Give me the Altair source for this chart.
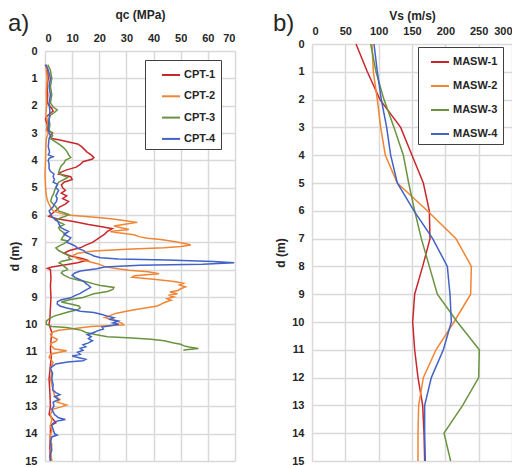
import altair as alt
import pandas as pd

FONT = "Liberation Sans"
cpt_names = ["CPT-1", "CPT-2", "CPT-3", "CPT-4"]
masw_names = ["MASW-1", "MASW-2", "MASW-3", "MASW-4"]
line_colors = ["#C8282C", "#F08535", "#6A9340", "#4262C6"]

# ---- CPT traces (depth m, qc MPa) ----
cpt1_d = [0.5, 0.7, 1.0, 1.3, 1.6, 1.9, 2.1, 2.2, 2.4, 2.5, 2.7, 2.9, 3.0, 3.1, 3.2, 3.25, 3.3, 3.4, 3.5, 3.6,
          3.7, 3.8, 3.9, 3.95, 4.05, 4.15, 4.25, 4.35, 4.45, 4.5, 4.6, 4.7, 4.8, 4.9, 5.0, 5.1, 5.2, 5.3, 5.4,
          5.5, 5.6, 5.7, 5.8, 5.9, 6.0, 6.05, 6.15, 6.25, 6.35, 6.45, 6.5, 6.6, 6.7, 6.8, 6.9, 7.0, 7.1, 7.2,
          7.3, 7.4, 7.5, 7.6, 7.65, 7.75, 7.85, 7.9, 7.95, 8.0, 8.3, 8.6, 9.0, 9.4, 9.8, 10.0, 10.3, 10.6,
          10.9, 11.2, 11.5, 12.0, 12.5, 13.0, 13.3, 13.6, 13.7, 14.0, 14.5, 15.0]
cpt1_qc = [0.3, 1.0, 1.2, 0.8, 1.0, 0.8, 2.5, 3.0, 0.5, 0.2, 0.8, 1.0, 2.8, 2.0, 2.5, 5.0, 7.5, 12.0, 13.5, 14.5,
           15.5, 17.0, 18.0, 17.5, 14.0, 13.0, 11.5, 8.0, 5.5, 5.0, 9.5, 10.0, 7.0, 6.0, 6.5, 7.5, 6.0, 8.0, 6.5,
           8.7, 7.5, 5.5, 4.5, 3.2, 2.0, 1.4, 5.0, 11.0, 16.0, 22.0, 24.8, 23.0, 22.0, 20.5, 19.0, 17.5, 15.0, 13.0,
           9.0, 7.0, 9.5, 14.0, 15.6, 12.0, 6.0, 2.5, 0.9, 2.0, 2.2, 2.0, 2.2, 2.0, 1.8, 1.5, 2.5, 2.2,
           2.0, 2.3, 2.0, 1.5, 1.8, 2.0, 1.5, 4.0, 2.0, 2.0, 1.8, 2.0]

cpt2_d = [0.5, 1.0, 1.5, 2.0, 2.3, 2.6, 2.9, 3.0, 3.2, 3.5, 4.0, 4.5, 5.0, 5.3, 5.5, 5.7, 5.85, 5.95, 6.0, 6.05,
          6.1, 6.15, 6.2, 6.27, 6.33, 6.4, 6.47, 6.53, 6.6, 6.65, 6.72, 6.8, 6.85, 6.9, 6.97, 7.05, 7.1, 7.15,
          7.2, 7.25, 7.32, 7.4, 7.47, 7.55, 7.62, 7.7, 7.78, 7.88, 7.95, 8.02, 8.08, 8.15, 8.22, 8.28, 8.35,
          8.43, 8.5, 8.56, 8.63, 8.7, 8.76, 8.82, 8.88, 8.94, 9.0, 9.06, 9.12, 9.2, 9.27, 9.33, 9.4, 9.45,
          9.52, 9.6, 9.68, 9.75, 9.83, 9.9, 9.97, 10.02, 10.08, 10.15, 10.22, 10.28, 10.36, 10.45, 10.55,
          10.62, 10.7, 10.8, 10.9, 10.97, 11.05, 11.1, 11.2, 11.4, 11.6, 11.8, 12.0, 12.2, 12.4, 12.6, 12.75,
          12.85, 12.95, 13.02, 13.1, 13.3, 13.5, 13.7, 13.9, 14.1, 14.4, 14.7, 15.0]
cpt2_qc = [0.3, 0.8, 0.5, 0.6, 0.3, 1.0, 0.5, 1.2, 0.5, 0.3, 0.2, 0.0, 0.2, 0.5, 1.0, 2.0, 3.0, 6.0, 8.0, 14.0,
           20.5, 25.0, 29.0, 34.0, 30.0, 25.4, 28.0, 30.9, 24.0, 27.0, 32.8, 35.0, 37.7, 42.6, 47.5, 52.0, 53.7, 50.0,
           43.9, 30.0, 18.0, 12.0, 10.6, 11.0, 12.5, 16.0, 19.3, 21.8, 25.4, 31.0, 38.0, 42.0, 33.0, 32.0, 40.0,
           47.6, 51.0, 49.5, 51.8, 50.0, 49.0, 46.0, 48.8, 45.5, 47.5, 45.0, 46.5, 44.0, 42.6, 41.4, 37.0, 34.0,
           30.0, 26.0, 24.0, 22.0, 25.0, 27.0, 28.5, 29.0, 17.0, 11.0, 5.0, 3.0, 2.0, 2.5, 4.5,
           4.0, 2.0, 2.5, 3.5, 8.0, 4.0, 2.0, 1.5, 3.0, 2.0, 2.5, 2.0, 2.5, 3.0, 3.5, 5.5,
           4.5, 8.0, 6.0, 3.0, 2.0, 2.5, 2.0, 2.5, 1.8, 2.5, 2.2, 2.5]

cpt3_d = [0.5, 0.7, 1.0, 1.3, 1.6, 1.9, 2.05, 2.15, 2.25, 2.35, 2.5, 2.7, 2.9, 3.0, 3.1, 3.2, 3.3, 3.4, 3.5, 3.6,
          3.72, 3.8, 3.9, 4.0, 4.1, 4.2, 4.3, 4.45, 4.55, 4.63, 4.7, 4.8, 4.9, 5.0, 5.1, 5.2, 5.35, 5.5, 5.6,
          5.7, 5.85, 5.92, 5.98, 6.05, 6.1, 6.2, 6.3, 6.35, 6.45, 6.55, 6.62, 6.7, 6.8, 6.9, 6.95, 7.05, 7.1,
          7.2, 7.3, 7.4, 7.5, 7.56, 7.62, 7.7, 7.75, 7.82, 7.88, 7.95, 8.0, 8.06, 8.12, 8.2, 8.3, 8.38, 8.45,
          8.52, 8.58, 8.65, 8.72, 8.8, 8.88, 8.95, 9.02, 9.1, 9.18, 9.25, 9.33, 9.4, 9.47, 9.55, 9.62, 9.7,
          9.8, 9.88, 10.0, 10.08, 10.12, 10.17, 10.22, 10.3, 10.38, 10.45, 10.5, 10.55, 10.6, 10.67, 10.73,
          10.78, 10.83, 10.88, 10.93, 10.95]
cpt3_qc = [1.0, 2.0, 2.5, 2.0, 2.5, 2.0, 3.0, 4.5, 3.5, 2.0, 1.5, 1.8, 1.5, 2.5, 2.8, 2.0, 3.5, 5.0, 6.4, 7.5,
           8.3, 8.7, 9.5, 7.5, 7.0, 6.0, 5.5, 5.0, 6.5, 8.3, 7.0, 5.0, 4.5, 4.0, 3.5, 3.3, 2.5, 2.1, 3.0,
           4.0, 5.0, 7.0, 8.7, 7.5, 5.8, 4.0, 6.0, 7.0, 5.0, 5.5, 6.5, 7.6, 6.5, 6.0, 8.3, 7.0, 5.8,
           4.0, 5.0, 7.0, 9.0, 8.7, 9.5, 6.0, 5.2, 6.5, 7.0, 8.0, 8.3, 6.5, 6.0, 7.0, 9.0, 12.0, 15.6,
           18.0, 20.5, 25.4, 25.0, 23.0, 18.0, 16.0, 14.0, 9.0, 6.0, 9.0, 12.5, 13.0, 12.0, 8.5, 6.0, 3.3,
           1.5, 0.5, 0.5, 2.5, 8.0, 11.0, 13.5, 15.0, 19.0, 23.0, 32.0, 39.0, 44.0, 47.0, 50.0,
           51.0, 53.0, 56.5, 52.0, 51.0]

cpt4_d = [0.5, 0.6, 0.8, 1.0, 1.3, 1.6, 1.9, 2.2, 2.5, 2.8, 3.0, 3.1, 3.2, 3.5, 3.7, 3.8, 3.87, 3.93, 4.0, 4.15,
          4.3, 4.4, 4.5, 4.6, 4.7, 4.8, 4.88, 5.0, 5.1, 5.2, 5.3, 5.4, 5.5, 5.6, 5.7, 5.8, 5.85, 5.95, 6.05,
          6.15, 6.2, 6.3, 6.4, 6.46, 6.55, 6.6, 6.65, 6.7, 6.78, 6.83, 6.9, 7.0, 7.08, 7.15, 7.22, 7.3, 7.38,
          7.44, 7.5, 7.56, 7.61, 7.65, 7.7, 7.75, 7.8, 7.84, 7.9, 7.97, 8.05, 8.12, 8.2, 8.28, 8.35, 8.43,
          8.5, 8.57, 8.65, 8.72, 8.8, 8.87, 8.95, 9.03, 9.1, 9.17, 9.25, 9.33, 9.4, 9.47, 9.52, 9.57, 9.64,
          9.7, 9.76, 9.82, 9.88, 9.95, 10.0, 10.05, 10.1, 10.17, 10.24, 10.3, 10.38, 10.45, 10.52, 10.6,
          10.68, 10.75, 10.82, 10.88, 10.95, 11.02, 11.1, 11.16, 11.22, 11.28, 11.33, 11.38, 11.45, 11.52,
          11.6, 11.8, 12.0, 12.2, 12.4, 12.5, 12.57, 12.65, 12.75, 12.85, 13.0, 13.1, 13.2, 13.3, 13.42,
          13.48, 13.55, 13.62, 13.7, 13.85, 14.0, 14.05, 14.12, 14.3, 14.6, 14.8, 15.0]
cpt4_qc = [0.0, 0.8, 1.5, 2.0, 1.5, 2.0, 1.5, 1.8, 1.5, 1.2, 1.5, 2.0, 1.5, 1.2, 1.7, 1.2, 3.0, 1.5, 1.2, 1.5,
           1.5, 2.0, 3.3, 3.0, 3.5, 3.0, 4.6, 4.0, 5.0, 4.5, 4.0, 4.5, 4.2, 3.5, 3.0, 2.0, 1.5, 2.0, 2.5,
           3.5, 4.6, 5.0, 5.5, 5.8, 7.5, 8.7, 8.0, 7.0, 8.5, 9.5, 9.0, 8.0, 10.0, 11.3, 12.0, 14.3, 15.0,
           16.8, 18.0, 20.5, 27.0, 45.0, 62.0, 69.7, 58.0, 35.0, 22.0, 19.0, 13.0, 11.0, 10.0, 11.0, 12.5, 14.3,
           15.0, 16.0, 16.8, 15.5, 14.0, 13.0, 11.0, 9.5, 6.0, 4.6, 4.5, 5.5, 8.0, 11.0, 13.0, 18.0, 21.0,
           23.0, 25.4, 24.0, 27.0, 25.0, 27.2, 24.0, 21.0, 21.5, 19.3, 18.0, 15.6, 17.0, 16.0, 17.5,
           16.0, 14.0, 15.0, 13.0, 14.0, 12.0, 13.0, 10.0, 12.5, 15.0, 14.0, 8.3, 4.0, 3.0,
           2.0, 2.8, 2.5, 3.0, 2.8, 4.0, 5.5, 3.5, 5.0, 3.0, 3.3, 2.5, 3.0, 3.5, 5.0,
           7.5, 4.0, 3.0, 2.5, 3.0, 3.5, 4.5, 2.5, 2.0, 2.5, 1.8, 2.0]

# ---- MASW profiles (depth m, Vs m/s) ----
masw_depth = [0, 1, 2, 3, 4, 5, 6, 7, 8, 9, 10, 11, 12, 13, 14, 15]
masw1_vs = [66, 83, 102, 133, 150, 167, 176, 177, 166, 154, 151, 154, 159, 166, 168, 169]
masw2_vs = [90, 92, 98, 103, 110, 128, 173, 216, 239, 238, 213, 186, 167, 160, 159, 159]
masw3_vs = [88, 96, 108, 123, 137, 145, 154, 164, 176, 188, 218, 251, 250, 226, 198, 208]
masw4_vs = [93, 98, 104, 112, 118, 128, 153, 181, 203, 207, 209, 197, 179, 169, 169, 170]

qc_ticks = [0, 10, 20, 30, 40, 50, 60, 70]
vs_ticks = [0, 50, 100, 150, 200, 250, 300]
depth_ticks = list(range(16))

rows = []
for name, ds, qs in zip(cpt_names, [cpt1_d, cpt2_d, cpt3_d, cpt4_d], [cpt1_qc, cpt2_qc, cpt3_qc, cpt4_qc]):
    for i, (d, q) in enumerate(zip(ds, qs)):
        rows.append({"series": name, "d": d, "qc": q, "i": i})
cpt_df = pd.DataFrame(rows)

rows = []
for name, vs in zip(masw_names, [masw1_vs, masw2_vs, masw3_vs, masw4_vs]):
    for i, (d, v) in enumerate(zip(masw_depth, vs)):
        rows.append({"series": name, "d": d, "vs": v, "i": i})
masw_df = pd.DataFrame(rows)

GRID = "#D9D9D9"
TXT = "#262626"
PANEL_H = 417


def legend(x, y, sym_off, row_pad, spaces):
    return alt.Legend(
        orient="none", legendX=x, legendY=y, title=None,
        symbolType="stroke", symbolSize=324, symbolStrokeWidth=2,
        labelFont=FONT, labelFontSize=11, labelFontWeight="bold", labelColor=TXT,
        padding=5, symbolOffset=sym_off, labelOffset=3, rowPadding=row_pad,
        strokeColor="#404040", fillColor="white",
        labelExpr="datum.label + '" + " " * spaces + "'",
    )


left_lines = alt.Chart(cpt_df).mark_line(strokeWidth=1.5).encode(
    x=alt.X("qc:Q", scale=alt.Scale(domain=[0, 70], nice=False),
            axis=alt.Axis(orient="top", values=qc_ticks, title="qc (MPa)",
                          labelPadding=1, titlePadding=11)),
    y=alt.Y("d:Q", scale=alt.Scale(domain=[0, 15], range=[7, PANEL_H], nice=False),
            axis=alt.Axis(values=depth_ticks, title="d (m)", labelPadding=8, titlePadding=3)),
    color=alt.Color("series:N", scale=alt.Scale(domain=cpt_names, range=line_colors),
                    legend=legend(100, 16, 11, 6.3, 4)),
    order=alt.Order("i:Q"),
)
a_text = alt.Chart(pd.DataFrame({"t": ["a)"]})).mark_text(
    font=FONT, fontSize=24, align="left", baseline="top", color=TXT
).encode(x=alt.value(-37), y=alt.value(-32), text="t:N")
left = alt.layer(left_lines, a_text).properties(width=190, height=PANEL_H)

right_lines = alt.Chart(masw_df).mark_line(strokeWidth=1.5).encode(
    x=alt.X("vs:Q", scale=alt.Scale(domain=[0, 300], nice=False),
            axis=alt.Axis(orient="top", values=vs_ticks, title="Vs (m/s)",
                          labelPadding=8, titlePadding=3)),
    y=alt.Y("d:Q", scale=alt.Scale(domain=[0, 15], range=[0, PANEL_H], nice=False),
            axis=alt.Axis(values=depth_ticks, title="d (m)", labelPadding=8, titlePadding=4)),
    color=alt.Color("series:N", scale=alt.Scale(domain=masw_names, range=line_colors),
                    legend=legend(106, 3, 7, 9, 3)),
    order=alt.Order("i:Q"),
)
b_text = alt.Chart(pd.DataFrame({"t": ["b)"]})).mark_text(
    font=FONT, fontSize=24, align="left", baseline="top", color=TXT
).encode(x=alt.value(-39), y=alt.value(-32), text="t:N")
right = alt.layer(right_lines, b_text).properties(width=200, height=PANEL_H)

chart = alt.hconcat(left, right, spacing=35).resolve_scale(
    color="independent"
).resolve_legend(color="independent").properties(
    padding={"left": 0, "top": 0, "right": 0, "bottom": 0}
).configure(font=FONT).configure_view(stroke=None).configure_axis(
    labelFont=FONT, labelFontSize=11, labelFontWeight="bold", labelColor=TXT,
    titleFont=FONT, titleFontSize=12, titleFontWeight="bold", titleColor=TXT,
    grid=True, gridColor=GRID, gridWidth=1.5, domain=False,
    ticks=False,
)

chart.save("out.html", embed_options={"renderer": "svg", "actions": False})
